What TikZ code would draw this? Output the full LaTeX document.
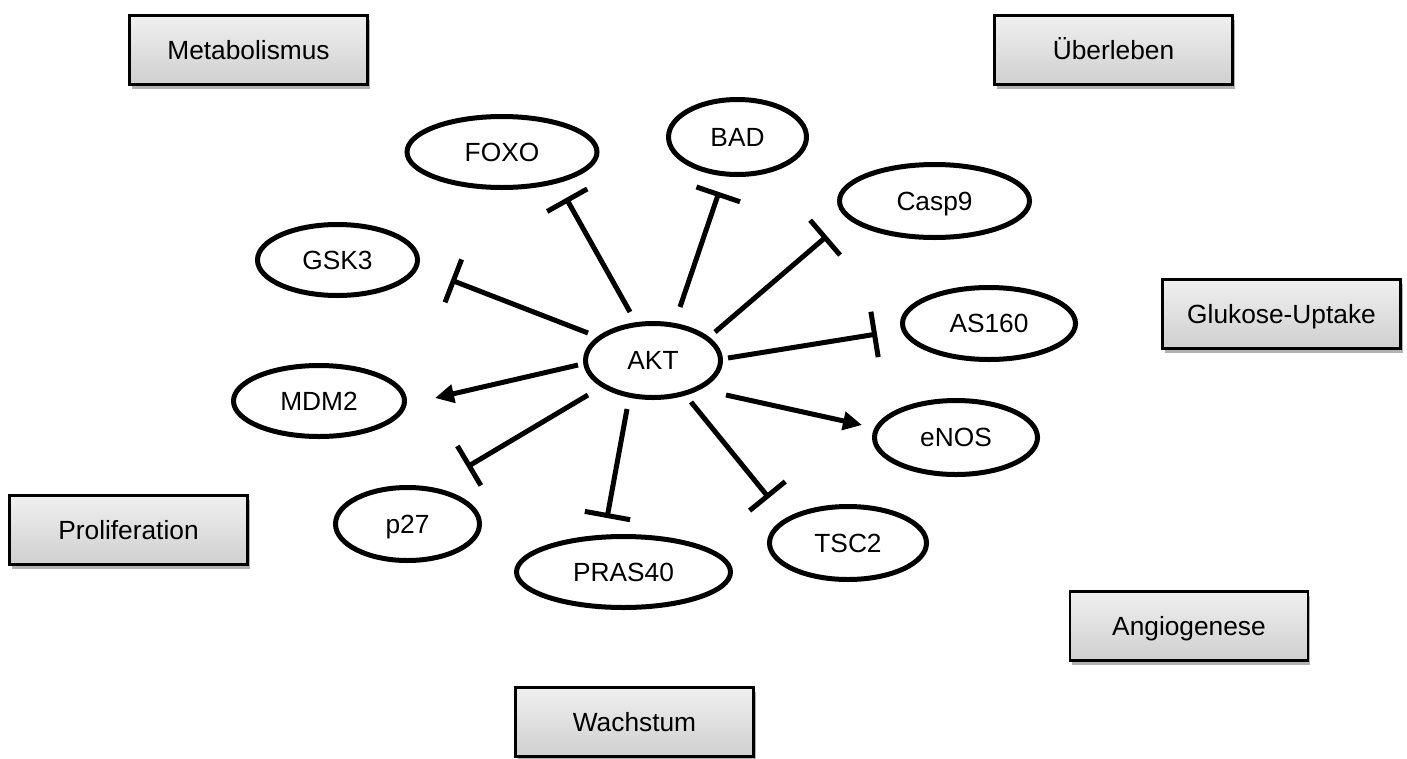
\documentclass[tikz,border=0pt]{standalone}
\usepackage{fontspec}
\setmainfont{Liberation Sans}
\usetikzlibrary{arrows.meta,shadows,shapes.geometric}
\definecolor{boxtop}{HTML}{F0F0F0}
\definecolor{boxbot}{HTML}{CFCFCF}
\tikzset{
  catbox/.style={draw=black, line width=2.5pt, top color=boxtop, bottom color=boxbot,
    minimum width=238pt, minimum height=69pt, inner sep=0pt,
    font=\fontsize{26.3}{30}\selectfont, text height=18.8pt, text depth=0pt,
    drop shadow={shadow xshift=2pt, shadow yshift=-4pt, fill=black, opacity=0.3}},
  oval/.style={draw=black, line width=5pt, ellipse, inner sep=0pt, fill=white,
    font=\fontsize{26.3}{30}\selectfont, text height=18.8pt, text depth=0pt},
  inh/.style={line width=5pt, -{Bar[width=46pt]}},
  act/.style={line width=5pt, -{Triangle[length=19pt,width=18pt]}},
}
\begin{document}
\begin{tikzpicture}[x=1pt,y=-1pt]
\useasboundingbox (0,0) rectangle (1407,758);
% category boxes
\node[catbox] (metab) at (248.5,50) {Metabolismus};
\node[catbox] (ueber) at (1113.5,50) {Überleben};
\node[catbox] (gluk) at (1281.5,314) {Glukose-Uptake};
\node[catbox] (prolif) at (128.5,530) {Proliferation};
\node[catbox] (angio) at (1189,626) {Angiogenese};
\node[catbox] (wachs) at (634.5,722) {Wachstum};
% ellipses
\node[oval, minimum width=135pt, minimum height=74pt] (akt) at (653,360.5) {AKT};
\node[oval, minimum width=190pt, minimum height=71pt] (foxo) at (502,152) {FOXO};
\node[oval, minimum width=138pt, minimum height=75pt] (bad) at (737.5,137) {BAD};
\node[oval, minimum width=190pt, minimum height=73pt] (casp) at (934.5,201) {Casp9};
\node[oval, minimum width=160pt, minimum height=71pt] (gsk) at (337.5,260) {GSK3};
\node[oval, minimum width=173pt, minimum height=72pt] (as) at (989,323.5) {AS160};
\node[oval, minimum width=171pt, minimum height=71pt] (mdm) at (319,401) {MDM2};
\node[oval, minimum width=163pt, minimum height=74pt] (enos) at (956,437.5) {eNOS};
\node[oval, minimum width=144pt, minimum height=73pt] (p27) at (407.5,524) {p27};
\node[oval, minimum width=214pt, minimum height=71pt] (pras) at (623.5,572) {PRAS40};
\node[oval, minimum width=157pt, minimum height=73pt] (tsc) at (848,543) {TSC2};
% connectors
\draw[inh] ([shift={(-23,-48.5)}]akt.center) -- ([shift={(64,46)}]foxo.center);
\draw[inh] ([shift={(27,-53.5)}]akt.center) -- ([shift={(-18.5,55)}]bad.center);
\draw[inh] ([shift={(62,-28.5)}]akt.center) -- ([shift={(-107.5,35)}]casp.center);
\draw[inh] ([shift={(-65,-27.5)}]akt.center) -- ([shift={(113.5,20)}]gsk.center);
\draw[inh] ([shift={(75,-2.5)}]akt.center) -- ([shift={(-112,10.5)}]as.center);
\draw[act] ([shift={(-75,4.5)}]akt.center) -- ([shift={(116,-3)}]mdm.center);
\draw[act] ([shift={(73,34.5)}]akt.center) -- ([shift={(-94,-12.5)}]enos.center);
\draw[inh] ([shift={(-65,34.5)}]akt.center) -- ([shift={(59.5,-57)}]p27.center);
\draw[inh] ([shift={(-26,48.5)}]akt.center) -- ([shift={(-16.5,-54)}]pras.center);
\draw[inh] ([shift={(38,41.5)}]akt.center) -- ([shift={(-79,-45)}]tsc.center);
\end{tikzpicture}
\end{document}
